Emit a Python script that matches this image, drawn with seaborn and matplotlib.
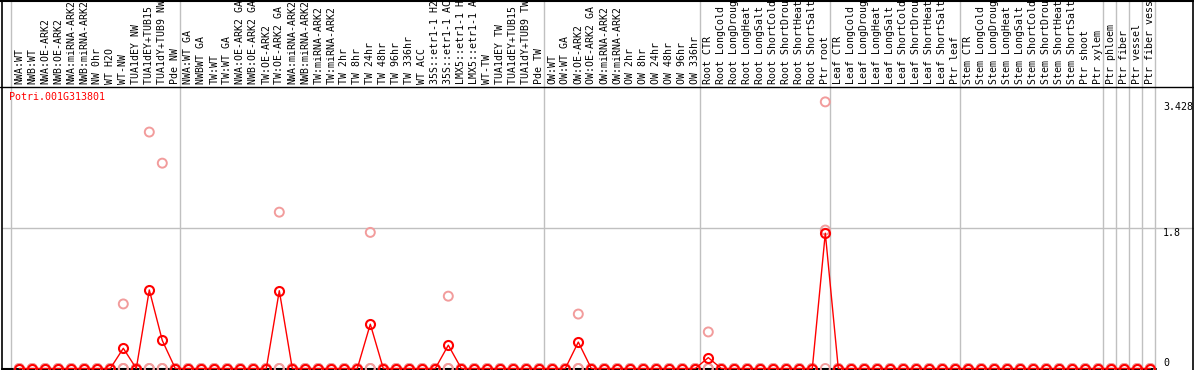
import numpy as np
import pandas as pd
import matplotlib
matplotlib.use("Agg")
import matplotlib.pyplot as plt
import seaborn as sns

# --------------------------------------------------------------
# Data
# --------------------------------------------------------------
gene = "Potri.001G313801"

samples = [
    "NWA:WT", "NWB:WT", "NWA:OE-ARK2", "NWB:OE-ARK2", "NWA:miRNA-ARK2", "NWB:miRNA-ARK2",
    "NW 0hr", "WT H2O", "WT-NW", "TUA1dEY NW", "TUA1dEY+TUB15 NW", "TUA1dY+TUB9 NW", "Pde NW",
    "NWA:WT GA", "NWBWT GA", "TW:WT", "TW:WT GA", "NWA:OE-ARK2 GA", "NWB:OE-ARK2 GA",
    "TW:OE-ARK2", "TW:OE-ARK2 GA", "NWA:miRNA-ARK2", "NWB:miRNA-ARK2", "TW:miRNA-ARK2",
    "TW:miRNA-ARK2", "TW 2hr", "TW 8hr", "TW 24hr", "TW 48hr", "TW 96hr", "TW 336hr",
    "WT ACC", "35S::etr1-1 H2O", "35S::etr1-1 ACC", "LMX5::etr1-1 H2O", "LMX5::etr1-1 ACC",
    "WT-TW", "TUA1dEY TW", "TUA1dEY+TUB15 TW", "TUA1dY+TUB9 TW", "Pde TW",
    "OW:WT", "OW:WT GA", "OW:OE-ARK2", "OW:OE-ARK2 GA", "OW:miRNA-ARK2", "OW:miRNA-ARK2",
    "OW 2hr", "OW 8hr", "OW 24hr", "OW 48hr", "OW 96hr", "OW 336hr",
    "Root CTR", "Root LongCold", "Root LongDrought", "Root LongHeat", "Root LongSalt",
    "Root ShortCold", "Root ShortDrought", "Root ShortHeat", "Root ShortSalt", "Ptr root",
    "Leaf CTR", "Leaf LongCold", "Leaf LongDrought", "Leaf LongHeat", "Leaf LongSalt",
    "Leaf ShortCold", "Leaf ShortDrought", "Leaf ShortHeat", "Leaf ShortSalt", "Ptr leaf",
    "Stem CTR", "Stem LongCold", "Stem LongDrought", "Stem LongHeat", "Stem LongSalt",
    "Stem ShortCold", "Stem ShortDrought", "Stem ShortHeat", "Stem ShortSalt", "Ptr shoot",
    "Ptr xylem", "Ptr phloem", "Ptr fiber", "Ptr vessel", "Ptr fiber vessel",
]

# mean expression per sample
mean_expr = [
    0, 0, 0, 0, 0, 0, 0, 0, 0.26, 0, 1.01, 0.36, 0,
    0, 0, 0, 0, 0, 0, 0, 1.0, 0, 0, 0, 0, 0, 0, 0.57, 0, 0, 0,
    0, 0, 0.30, 0, 0, 0, 0, 0, 0, 0,
    0, 0, 0.34, 0, 0, 0, 0, 0, 0, 0, 0, 0,
    0.14, 0, 0, 0, 0, 0, 0, 0, 0, 1.74,
    0, 0, 0, 0, 0, 0, 0, 0, 0, 0,
    0, 0, 0, 0, 0, 0, 0, 0, 0, 0,
    0, 0, 0, 0, 0,
]

# individual replicates (pale circles)
rep_a = [
    0, 0, 0, 0, 0, 0, 0, 0, 0.83, 0, 3.04, 2.64, 0,
    0, 0, 0, 0, 0, 0, 0, 2.01, 0, 0, 0, 0, 0, 0, 1.75, 0, 0, 0,
    0, 0, 0.93, 0, 0, 0, 0, 0, 0, 0,
    0, 0, 0.70, 0, 0, 0, 0, 0, 0, 0, 0, 0,
    0.47, 0, 0, 0, 0, 0, 0, 0, 0, 3.428,
    0, 0, 0, 0, 0, 0, 0, 0, 0, 0,
    0, 0, 0, 0, 0, 0, 0, 0, 0, 0,
    0, 0, 0, 0, 0,
]
rep_b = [0] * 62 + [1.78] + [0] * 25
rep_c = [0] * 88

# last sample index of each group (grey separators)
group_ends = [-1, 12, 40, 52, 62, 72, 83, 84, 85, 86, 87]

y_ticks = [3.428, 1.8, 0]

# --------------------------------------------------------------
# Layout (pixel geometry of the original)
# --------------------------------------------------------------
W, H = 1194, 370
X0, DX = 19.3, 13.0        # pixel of first sample, pixel step
Y0, PPU = 368.5, 77.78      # pixel of value 0, pixels per unit


def px_x(p):
    return (p - X0) / DX


def px_y(p):
    return (Y0 - p) / PPU


sns.set_style("white")
plt.rcParams["font.family"] = ["DejaVu Sans Mono", "DejaVu Sans"]

fig = plt.figure(figsize=(W / 100, H / 100), dpi=100)
ax = fig.add_axes([0, 0, 1, 1])
ax.set_xlim(px_x(0), px_x(W))
ax.set_ylim(px_y(H), px_y(0))
ax.axis("off")

grey = "#c0c0c0"
for g in group_ends:
    ax.axvline(g + 0.385, color=grey, lw=1, zorder=1)
ax.axhline(1.8, xmin=2 / W, xmax=1, color=grey, lw=1, zorder=1)

# frame
ax.axhline(px_y(87), color="black", lw=1, zorder=5)
ax.axhline(px_y(0.5), color="black", lw=1.5, zorder=5)
ax.axvline(px_x(2), color="black", lw=1.2, zorder=5)
ax.axvline(px_x(1193), color="black", lw=1.2, zorder=5)
ax.axhline(0, xmin=2 / W, xmax=1156 / W, color="black", lw=1.5, zorder=2)

idx = np.arange(len(samples))
reps = pd.DataFrame({
    "idx": np.tile(idx, 3),
    "value": rep_a + rep_b + rep_c,
})
sns.scatterplot(data=reps, x="idx", y="value", ax=ax, marker="o", s=42,
                facecolor="none", edgecolor="#f29c9c", linewidth=1.4, zorder=3)

df = pd.DataFrame({"idx": idx, "mean": mean_expr})
sns.lineplot(data=df, x="idx", y="mean", ax=ax, color="red", lw=1,
             marker="o", markersize=6.5, markerfacecolor="none",
             markeredgecolor="red", markeredgewidth=1.5, zorder=4)

# sample labels (long ones run off the top, as in the original)
for i, lab in enumerate(samples):
    ax.text(i, px_y(84.5), lab, rotation=90, ha="center", va="bottom",
            fontsize=7.1, color="black", zorder=6)

# right value labels
for v in y_ticks:
    ax.text(px_x(1163), v, f"{v:g}", ha="left",
            va="bottom" if v == 0 else "top", fontsize=7.2, color="black")

ax.text(px_x(9), px_y(97), gene, ha="left", va="center", fontsize=7.2, color="red")

ax.set_xlabel("")
ax.set_ylabel("")
fig.savefig("out.png", dpi=100)
